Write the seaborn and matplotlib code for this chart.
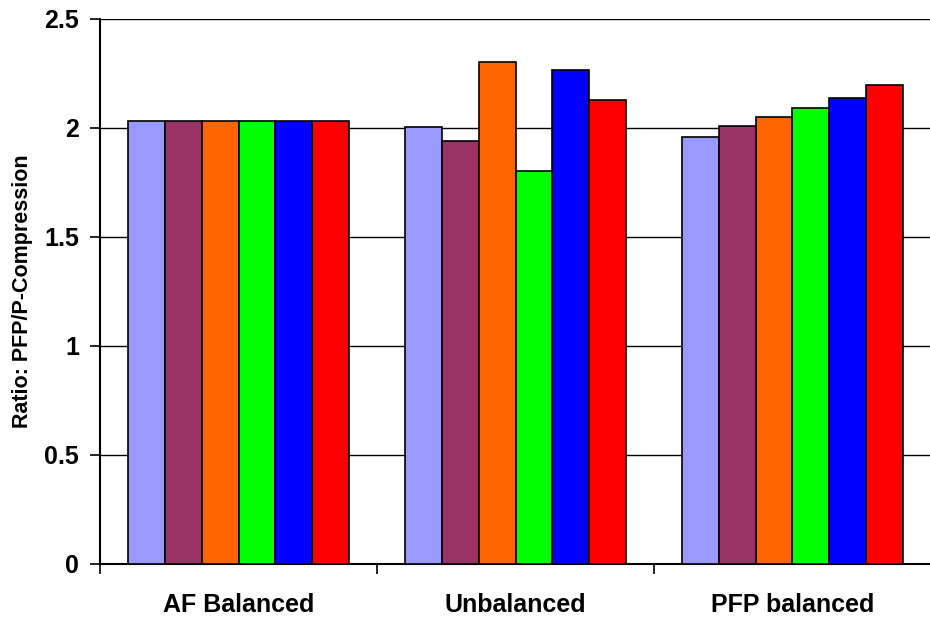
import matplotlib
matplotlib.use("Agg")
import matplotlib.pyplot as plt
from matplotlib.ticker import FixedLocator
import seaborn as sns
import pandas as pd

# Chart data
categories = ["AF Balanced", "Unbalanced", "PFP balanced"]
series_names = ["Series 1", "Series 2", "Series 3", "Series 4", "Series 5", "Series 6"]
af_balanced = [2.032, 2.032, 2.032, 2.032, 2.032, 2.032]
unbalanced = [2.002, 1.940, 2.301, 1.803, 2.266, 2.127]
pfp_balanced = [1.959, 2.006, 2.050, 2.089, 2.136, 2.196]
colors = ["#9999FF", "#993366", "#FF6600", "#00FF00", "#0000FF", "#FF0000"]
y_ticks = [0, 0.5, 1, 1.5, 2, 2.5]
y_tick_labels = ["0", "0.5", "1", "1.5", "2", "2.5"]
y_label = "Ratio: PFP/P-Compression"

rows = []
for cat, vals in zip(categories, [af_balanced, unbalanced, pfp_balanced]):
    for name, v in zip(series_names, vals):
        rows.append({"category": cat, "series": name, "ratio": v})
df = pd.DataFrame(rows)

sns.set_theme(style="white")
plt.rcParams["font.family"] = ["Liberation Sans", "DejaVu Sans"]
plt.rcParams["font.weight"] = "bold"
plt.rcParams["text.color"] = "black"
plt.rcParams["axes.labelcolor"] = "black"
plt.rcParams["xtick.color"] = "black"
plt.rcParams["ytick.color"] = "black"

fig = plt.figure(figsize=(9.30, 6.18), dpi=100)
ax = fig.add_axes([100 / 930, 1 - 563.7 / 618, 831 / 930, (563.7 - 18.7) / 618])

sns.barplot(data=df, x="category", y="ratio", hue="series", order=categories,
            hue_order=series_names, palette=colors, width=0.8, dodge=True,
            edgecolor="black", linewidth=1.2, saturation=1, legend=False, ax=ax,
            zorder=3)

ax.set_ylim(0, 2.5)
ax.set_xlim(-0.5, len(categories) - 0.5)
ax.set_yticks(y_ticks)
ax.set_yticklabels(y_tick_labels, fontsize=18, fontweight="bold", color="black")
ax.yaxis.grid(True, color="black", linewidth=1.0, zorder=0)
ax.set_axisbelow(True)

# Category labels on major ticks (hidden marks); separators as minor ticks
ax.set_xticks(range(len(categories)))
ax.set_xticklabels(categories, fontsize=18, fontweight="bold", color="black")
ax.xaxis.set_minor_locator(FixedLocator([i - 0.5 for i in range(len(categories) + 1)]))
ax.tick_params(axis="x", which="major", length=0, pad=21)
ax.tick_params(axis="x", which="minor", length=7, width=1.2, color="black", direction="out", bottom=True)
ax.tick_params(axis="y", which="major", length=7, width=1.2, color="black", direction="out", left=True, pad=8)

ax.set_xlabel("")
ax.set_ylabel(y_label, fontsize=15.5, fontweight="bold", color="black", labelpad=8)

for side in ["top", "right"]:
    ax.spines[side].set_visible(False)
for side in ["left", "bottom"]:
    ax.spines[side].set_color("black")
    ax.spines[side].set_linewidth(1.5)

fig.savefig("out.png", dpi=100)
